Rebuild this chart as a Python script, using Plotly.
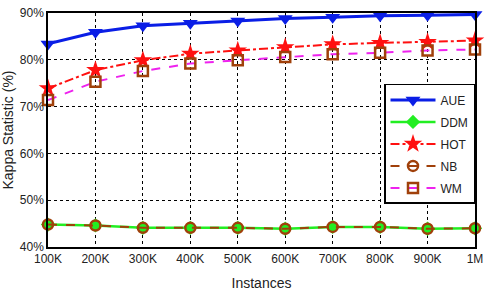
import plotly.graph_objects as go

categories = ["100K", "200K", "300K", "400K", "500K", "600K", "700K", "800K", "900K", "1M"]
aue = [83.4, 85.9, 87.3, 87.8, 88.3, 88.8, 89.1, 89.4, 89.5, 89.7]
ddm = [44.8, 44.6, 44.1, 44.1, 44.1, 43.9, 44.3, 44.3, 43.9, 44.0]
hot = [73.9, 77.8, 79.9, 81.3, 82.0, 82.7, 83.3, 83.6, 83.8, 84.1]
nb = [44.8, 44.6, 44.1, 44.1, 44.1, 43.9, 44.3, 44.3, 43.9, 44.0]
wm = [71.4, 75.3, 77.6, 79.2, 79.9, 80.6, 81.2, 81.5, 82.0, 82.2]
yticks = [40, 50, 60, 70, 80, 90]

x = list(range(1, len(categories) + 1))

fig = go.Figure()
fig.add_trace(go.Scatter(x=x, y=aue, name="AUE", legendgroup="a", mode="lines+markers", cliponaxis=False,
                         line=dict(color="#0a1ee6", width=3),
                         marker=dict(symbol="triangle-down", size=13, color="#0a1ee6")))
fig.add_trace(go.Scatter(x=x, y=ddm, name="DDM", legendgroup="b", mode="lines+markers", cliponaxis=False,
                         line=dict(color="#22ee22", width=2.5),
                         marker=dict(symbol="diamond", size=11, color="#22ee22")))
fig.add_trace(go.Scatter(x=x, y=hot, name="HOT", legendgroup="c", mode="lines+markers", cliponaxis=False,
                         line=dict(color="#ff1010", width=2, dash="dashdot"),
                         marker=dict(symbol="star", size=14, color="#ff1010")))
fig.add_trace(go.Scatter(x=x, y=nb, name="NB", legendgroup="d", mode="lines+markers", cliponaxis=False,
                         line=dict(color="#a0400a", width=2, dash="dash"),
                         marker=dict(symbol="circle-open", size=10, color="#a0400a", line=dict(width=2.5))))
fig.add_trace(go.Scatter(x=x, y=wm, name="WM", legendgroup="e", mode="lines+markers", cliponaxis=False,
                         line=dict(color="#ee22ee", width=2, dash="dash"),
                         marker=dict(symbol="square-open", size=10, color="#a0400a", line=dict(width=2.5))))

fig.update_layout(
    width=486, height=293,
    margin=dict(l=47.5, r=10.5, t=12.7, b=46.3),
    paper_bgcolor="white", plot_bgcolor="white",
    font=dict(family="Liberation Sans Narrow, Arial Narrow, Liberation Sans, Arial", size=12, color="#222"),
    showlegend=True,
    legend=dict(x=1, xanchor="right", y=0.697, yanchor="top",
                bgcolor="white", bordercolor="black", borderwidth=1.5,
                font=dict(size=12), itemwidth=45, tracegroupgap=3),
)
fig.update_xaxes(
    range=[1, 10], tickvals=x, ticktext=categories, automargin=False,
    showgrid=True, gridcolor="black", griddash="3px,3px", gridwidth=1,
    showline=True, linecolor="black", linewidth=1.5, mirror=True,
    ticks="", title=dict(text="Instances", font=dict(size=14), standoff=13),
    zeroline=False,
)
fig.update_yaxes(
    range=[40, 90], tickvals=yticks, ticktext=[f"{v}%" for v in yticks], automargin=False,
    showgrid=True, gridcolor="black", griddash="3px,3px", gridwidth=1,
    showline=True, linecolor="black", linewidth=1.5, mirror=True,
    ticks="", title=dict(text="Kappa Statistic (%)", font=dict(size=14), standoff=6),
    zeroline=False,
)

fig.write_html("out.html", config={"displayModeBar": False},
               post_script="document.body.style.margin='0px';")
